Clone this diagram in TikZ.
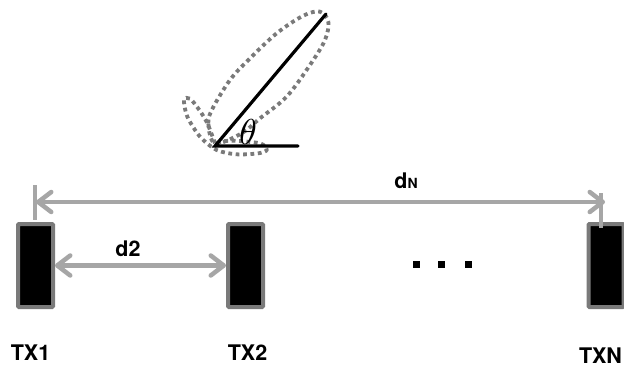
\documentclass[tikz,border=0pt]{standalone}
\usepackage{fontspec}
\setmainfont{TeX Gyre Heros}
\usetikzlibrary{arrows.meta}
\definecolor{dimgray}{HTML}{A6A6A6}
\definecolor{edgegray}{HTML}{7A7A7A}
\tikzset{
  x=1pt,y=-1pt,
  antenna/.style={draw=edgegray,fill=black,line width=4pt,rounded corners=1pt,minimum width=35pt,minimum height=83pt,inner sep=0pt,outer sep=2pt},
  dimline/.style={draw=dimgray,line width=4.5pt,{Straight Barb[length=13pt,width=20pt,line width=4.5pt,round]}-{Straight Barb[length=13pt,width=20pt,line width=4.5pt,round]}},
  tick/.style={draw=dimgray,line width=4.5pt},
  lab/.style={font=\bfseries\fontsize{21.5}{22}\selectfont,inner sep=0pt},
  lobe/.style={draw=edgegray,line width=3.8pt,dash pattern=on 3.8pt off 3.6pt},
  beam/.style={draw=black,line width=3.2pt,line cap=round},
  dot/.style={fill=black,inner sep=0pt,minimum size=7pt}
}
\begin{document}
\begin{tikzpicture}
\useasboundingbox (0,0) rectangle (624,367);
\fill[white] (0,0) rectangle (624,367);
% lobes
\begin{scope}[shift={(170,0)},x=0.3333pt,y=-0.3333pt]
\draw[lobe] plot[smooth cycle,tension=0.55] coordinates {(135,430) (115,370) (128,325) (180,240) (235,180) (320,100) (400,47) (450,35) (475,65) (465,120) (420,195) (350,290) (270,355) (215,400)};
\draw[lobe] plot[smooth,tension=0.5] coordinates {(135,430) (112,370) (88,330) (60,296) (42,300) (52,350) (90,410) (140,450) (200,463) (265,460) (290,450) (270,430) (180,422) (135,430)};
\end{scope}
% beam
\coordinate (o) at (215,146);
\coordinate (tip) at (326,14);
\coordinate (hz) at (298,146);
\draw[beam] (tip) -- (o) -- (hz);
\node[scale=3.6,inner sep=0pt] (th) at (248,132) {$\theta$};
% antennas
\node[antenna] (tx1) at (35.5,265.5) {};
\node[antenna] (tx2) at (245.5,265.5) {};
\node[antenna] (txn) at (606,265.5) {};
% dimensions
\coordinate (la) at (35,185);
\coordinate (lb) at (35,220);
\coordinate (ra) at (601,193);
\coordinate (rb) at (601,228);
\coordinate (ma) at (36,202);
\coordinate (mb) at (605,202);
\draw[tick] (la) -- (lb);
\draw[tick] (ra) -- (rb);
\draw[dimline] (ma) -- (mb);
\draw[dimline] (tx1.east) -- (tx2.west);
\node[lab] (d2) at (128,249) {d2};
\node[lab] (dn) at (406,181) {d{\fontsize{14}{14}\selectfont N}};
\node[dot] (p1) at (416,264) {};
\node[dot] (p2) at (441.5,264) {};
\node[dot] (p3) at (468,264) {};
\node[lab] (l1) at (30.5,353) {TX1};
\node[lab] (l2) at (247.5,353) {TX2};
\node[lab] (l3) at (600.5,356) {TXN};
\end{tikzpicture}
\end{document}
